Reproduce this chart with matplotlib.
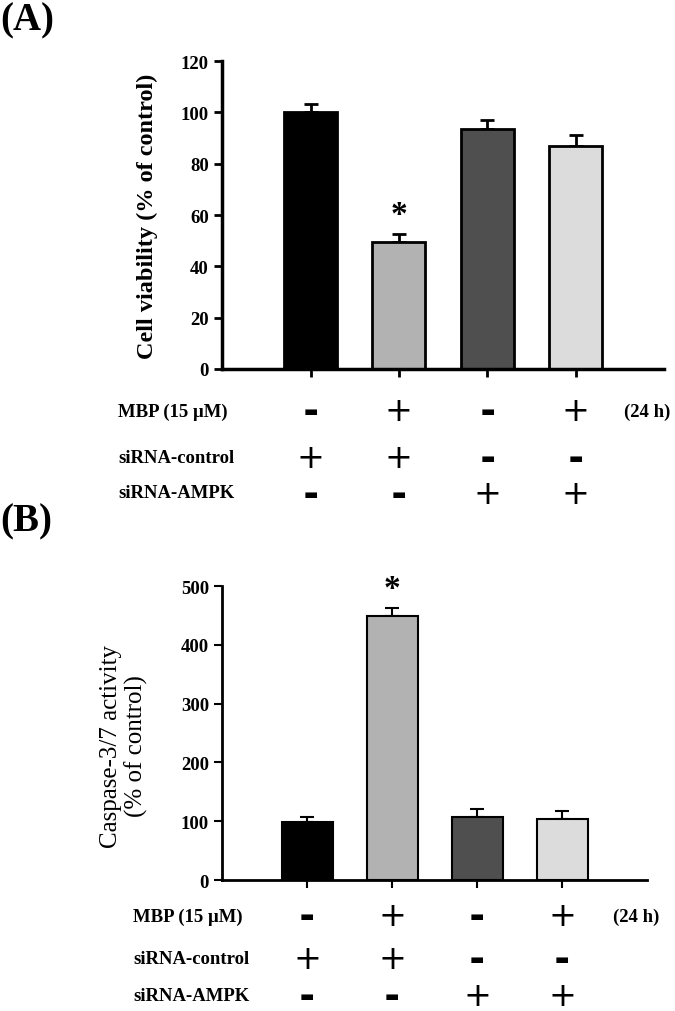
import matplotlib
matplotlib.use("Agg")
import matplotlib.pyplot as plt
import matplotlib.transforms as mtransforms

# Данные
groups = [0, 1, 2, 3]
bar_colors = ["#000000", "#b2b2b2", "#4f4f4f", "#dcdcdc"]

viability = [100, 49.5, 93.5, 87]
viability_err = [3.3, 3.0, 3.4, 4.3]

caspase = [98, 449, 107, 104]
caspase_err = [10, 13, 14, 14]

significant = [False, True, False, False]

mbp = ["-", "+", "-", "+"]
sirna_control = ["+", "+", "-", "-"]
sirna_ampk = ["-", "-", "+", "+"]
row_labels = ["MBP (15 \u03bcM)", "siRNA-control", "siRNA-AMPK"]

SERIF = "Liberation Serif"


def draw_panel(ax, values, errors, ymax, step, lw):
    ax.bar(groups, values, width=0.6, color=bar_colors, edgecolor="black",
           linewidth=lw, zorder=2)
    ax.errorbar(groups, values, yerr=[[0] * len(errors), errors], fmt="none",
                ecolor="black", elinewidth=lw, capsize=5, capthick=lw, zorder=1)
    for g, v, e, s in zip(groups, values, errors, significant):
        if s:
            ax.annotate("*", (g, v + e), xytext=(0, 3), textcoords="offset points",
                        ha="center", va="bottom", fontsize=24, fontweight="bold",
                        family=SERIF)
    ax.set_xlim(-1, 4)
    ax.set_ylim(0, ymax)
    ax.set_yticks(range(0, ymax + 1, step))
    ax.set_xticks(groups)
    ax.set_xticklabels([])
    for side in ("top", "right"):
        ax.spines[side].set_visible(False)
    for side in ("left", "bottom"):
        ax.spines[side].set_linewidth(lw + 0.5)
    ax.tick_params(direction="out", length=6, width=lw, labelsize=13.5)
    for lab in ax.get_yticklabels():
        lab.set_fontweight("bold")
        lab.set_family(SERIF)


def draw_rows(fig, ax, label_x, rows_y, h_x, fs):
    trans = mtransforms.blended_transform_factory(ax.transData, fig.transFigure)
    for name, signs, y in zip(row_labels, [mbp, sirna_control, sirna_ampk], rows_y):
        fig.text(label_x, y, name, ha="left", va="center", fontsize=fs,
                 fontweight="bold", family=SERIF)
        for g, s in zip(groups, signs):
            if s == "+":
                ax.text(g, y, "+", transform=trans, ha="center", va="center",
                        fontsize=24, family="DejaVu Sans", clip_on=False)
            else:
                ax.text(g, y, "\u25ac", transform=trans, ha="center", va="center",
                        fontsize=11, family="DejaVu Sans", clip_on=False)
    fig.text(h_x, rows_y[0], "(24 h)", ha="left", va="center", fontsize=fs,
             fontweight="bold", family=SERIF)


fig = plt.figure(figsize=(6.75, 10.12), dpi=100)

# Панель A
ax1 = fig.add_axes([0.329, 0.6344, 0.655, 0.3043])
draw_panel(ax1, viability, viability_err, 120, 20, 2.0)
ax1.set_ylabel("Cell viability (% of control)", fontsize=17.5, fontweight="bold",
               family=SERIF)
ax1.yaxis.set_label_coords(-0.145, 0.5)
draw_rows(fig, ax1, 0.175, [1 - 412 / 1012, 1 - 459 / 1012, 1 - 494 / 1012], 0.925, 13.5)
fig.text(0.0, 1 - 2 / 1012, "(A)", ha="left", va="top", fontsize=28, fontweight="bold",
         family=SERIF)

# Панель B
ax2 = fig.add_axes([0.329, 0.1294, 0.630, 0.2905])
draw_panel(ax2, caspase, caspase_err, 500, 100, 1.5)
ax2.set_ylabel("Caspase-3/7 activity\n(% of control)", fontsize=18, family=SERIF,
               linespacing=1.15)
ax2.yaxis.set_label_coords(-0.174, 0.459)
draw_rows(fig, ax2, 0.197, [1 - 917 / 1012, 1 - 960 / 1012, 1 - 997 / 1012], 0.908, 13.5)
fig.text(0.0, 1 - 522 / 1012, "(B)", ha="left", va="center", fontsize=28,
         fontweight="bold", family=SERIF)

fig.savefig("out.png", dpi=100)
